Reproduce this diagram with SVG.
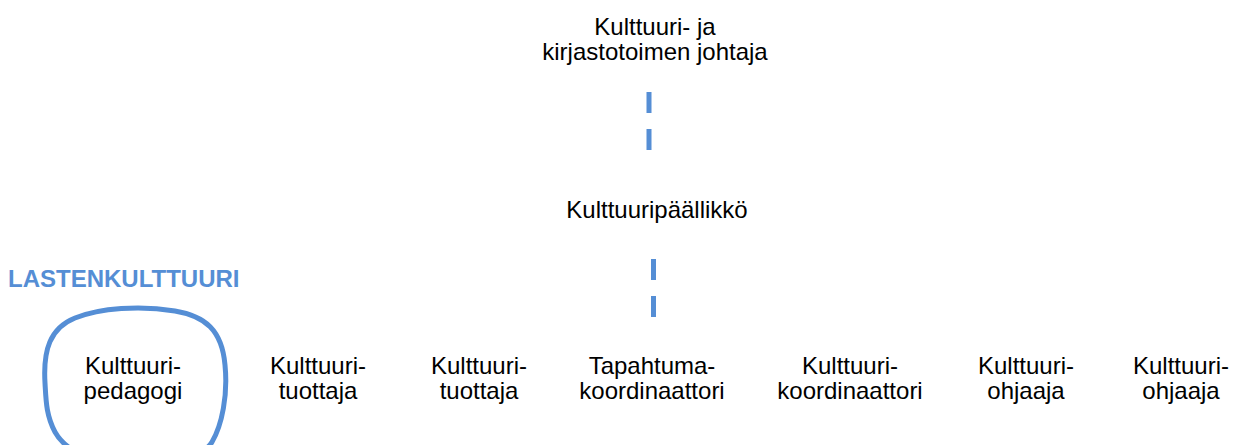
<svg xmlns="http://www.w3.org/2000/svg" width="1245" height="445" viewBox="0 0 1245 445">
<style>
.t{font-family:"Liberation Sans",Arial,sans-serif;font-size:24px;fill:#000;text-anchor:middle}
.h{font-family:"Liberation Sans",Arial,sans-serif;font-size:24px;font-weight:bold;fill:#558ED5}
.c{stroke:#558ED5;stroke-width:5;fill:none;stroke-dasharray:21 16}
</style>
<rect width="1245" height="445" fill="#fff"/>
<g id="connectors">
<line class="c" x1="649" y1="92" x2="649" y2="151"/>
<line class="c" x1="653.5" y1="259" x2="653.5" y2="318"/>
</g>
<g id="n-johtaja"><text class="t" x="655" y="35">Kulttuuri- ja</text><text class="t" x="655" y="60">kirjastotoimen johtaja</text></g>
<g id="n-paallikko"><text class="t" x="657" y="218">Kulttuuripäällikkö</text></g>
<g id="n-lastenkulttuuri"><text class="h" x="8" y="287">LASTENKULTTUURI</text></g>
<g id="n-pedagogi">
<path d="M45 383 C43 350,50 328,75 318 C100 308,140 305,175 311 C205 316,222 330,225 365 C228 395,222 425,212 442 C200 462,150 465,120 462 C85 460,65 450,55 432 C46 415,46 400,45 383 Z" fill="none" stroke="#558ED5" stroke-width="5"/>
<text class="t" x="133" y="374">Kulttuuri-</text><text class="t" x="133" y="399">pedagogi</text></g>
<g id="n-tuottaja1"><text class="t" x="318" y="374">Kulttuuri-</text><text class="t" x="318" y="399">tuottaja</text></g>
<g id="n-tuottaja2"><text class="t" x="479" y="374">Kulttuuri-</text><text class="t" x="479" y="399">tuottaja</text></g>
<g id="n-tapahtuma"><text class="t" x="652" y="374">Tapahtuma-</text><text class="t" x="652" y="399">koordinaattori</text></g>
<g id="n-koordinaattori"><text class="t" x="850" y="374">Kulttuuri-</text><text class="t" x="850" y="399">koordinaattori</text></g>
<g id="n-ohjaaja1"><text class="t" x="1026" y="374">Kulttuuri-</text><text class="t" x="1026" y="399">ohjaaja</text></g>
<g id="n-ohjaaja2"><text class="t" x="1181" y="374">Kulttuuri-</text><text class="t" x="1181" y="399">ohjaaja</text></g>
</svg>
